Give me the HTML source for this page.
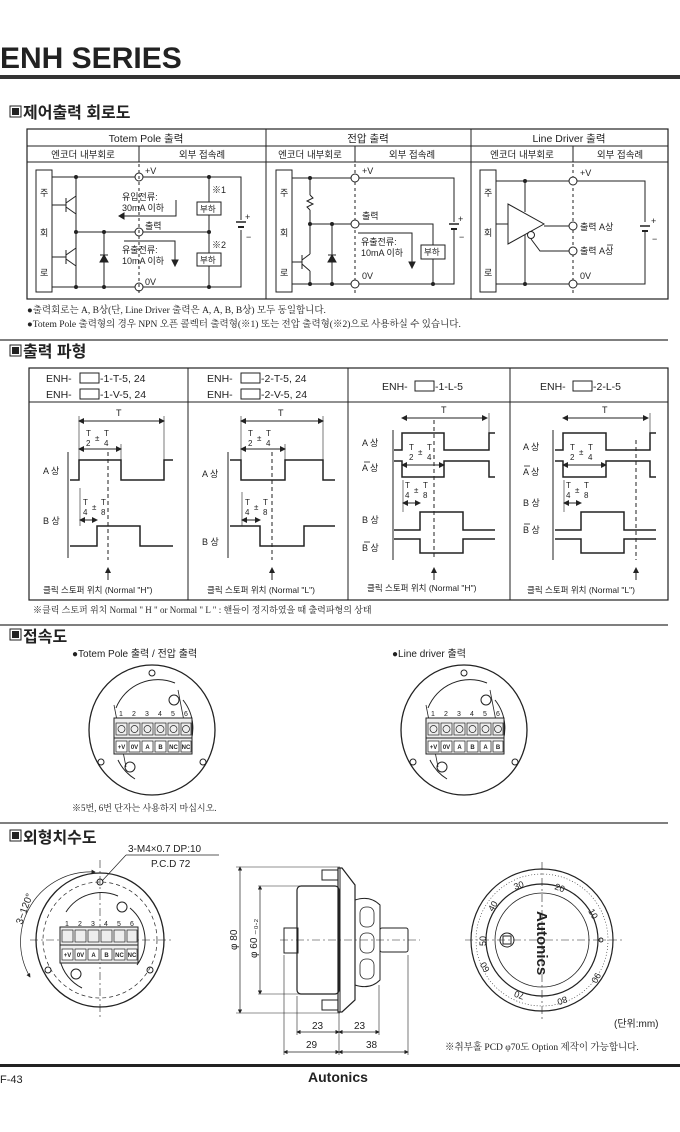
<!DOCTYPE html>
<html><head><meta charset="utf-8"><style>
html,body{margin:0;padding:0;background:#fff}
svg{display:block}
text{font-family:"Liberation Sans","Noto Sans CJK KR",sans-serif;fill:#222}
.s{font-family:"Liberation Serif","Noto Serif CJK SC","Noto Sans CJK KR",serif}
</style></head><body>
<svg width="680" height="1132" viewBox="0 0 680 1132" xmlns="http://www.w3.org/2000/svg" fill="none" stroke="#222" stroke-width="1">
<!-- Header -->
<text x="0" y="68" font-size="30" font-weight="bold" stroke="none" fill="#111">ENH SERIES</text>
<rect x="0" y="75" width="680" height="4" fill="#333" stroke="none"/>

<!-- Section 1 -->
<rect x="10" y="106" width="11" height="11" stroke-width="1"/><rect x="12.5" y="108.5" width="6" height="6" fill="#222"/>
<text x="23" y="118" font-size="16" font-weight="bold" stroke="none">제어출력 회로도</text>
<rect x="27" y="129" width="641" height="170" stroke-width="1.2"/>
<line x1="27" y1="146" x2="668" y2="146"/><line x1="27" y1="162" x2="668" y2="162"/>
<line x1="266" y1="129" x2="266" y2="299"/><line x1="471" y1="129" x2="471" y2="299"/>
<line x1="139" y1="146" x2="139" y2="162"/><line x1="355" y1="146" x2="355" y2="162"/><line x1="573" y1="146" x2="573" y2="162"/>
<g stroke="none" font-size="10.5" text-anchor="middle">
<text x="146" y="142">Totem Pole 출력</text><text x="368" y="142">전압 출력</text><text x="569" y="142">Line Driver 출력</text>
<text x="83" y="158" font-size="9.5">엔코더 내부회로</text><text x="202" y="158" font-size="9.5">외부 접속례</text>
<text x="310" y="158" font-size="9.5">엔코더 내부회로</text><text x="412" y="158" font-size="9.5">외부 접속례</text>
<text x="522" y="158" font-size="9.5">엔코더 내부회로</text><text x="620" y="158" font-size="9.5">외부 접속례</text>
</g>
<!-- Totem circuit -->
<rect x="36" y="170" width="16" height="122"/>
<g stroke="none" font-size="9"><text x="40" y="196">주</text><text x="40" y="236">회</text><text x="40" y="276">로</text></g>
<polyline points="52,177 135,177"/><polyline points="143,177 241,177 241,220"/><polyline points="241,230 241,287 143,287"/><line x1="52" y1="287" x2="135" y2="287"/>
<circle cx="139" cy="177" r="4" fill="#fff"/><circle cx="139" cy="232" r="4" fill="#fff"/><circle cx="139" cy="287" r="4" fill="#fff"/>
<line x1="139" y1="164" x2="139" y2="296" stroke-dasharray="3,3"/>
<line x1="76" y1="232" x2="135" y2="232"/><line x1="143" y1="232" x2="209" y2="232"/>
<line x1="76" y1="177" x2="76" y2="287"/><line x1="209" y1="177" x2="209" y2="287"/>
<rect x="197" y="202" width="24" height="13" fill="#fff"/><rect x="197" y="253" width="24" height="13" fill="#fff"/>
<line x1="52" y1="205" x2="66" y2="205"/><line x1="66" y1="198" x2="66" y2="212"/><line x1="66" y1="203" x2="76" y2="196"/><line x1="66" y1="207" x2="76" y2="214"/>
<line x1="52" y1="257" x2="66" y2="257"/><line x1="66" y1="250" x2="66" y2="264"/><line x1="66" y1="255" x2="76" y2="248"/><line x1="66" y1="259" x2="76" y2="266"/>
<line x1="104" y1="232" x2="104" y2="287"/><polygon points="100,262 108,262 104,255" fill="#222"/><line x1="100" y1="255" x2="108" y2="255"/>
<line x1="236" y1="222" x2="246" y2="222" stroke-width="1.5"/><line x1="238" y1="227" x2="244" y2="227" stroke-width="2"/>
<path d="M176,200 V216 H124"/><polygon points="124,213 124,219 119,216" fill="#222"/>
<path d="M124,241 H175 V260"/><polygon points="172,260 178,260 175,266" fill="#222"/>
<g fill="#222" stroke="none"><circle cx="76" cy="177" r="2"/><circle cx="209" cy="177" r="2"/><circle cx="76" cy="232" r="2"/><circle cx="104" cy="232" r="2"/><circle cx="209" cy="232" r="2"/><circle cx="76" cy="287" r="2"/><circle cx="104" cy="287" r="2"/><circle cx="209" cy="287" r="2"/></g>
<g stroke="none" font-size="9"><text x="145" y="174">+V</text><text x="122" y="200">유입전류:</text><text x="122" y="211">30mA 이하</text><text x="145" y="229">출력</text>
<text x="122" y="253">유출전류:</text><text x="122" y="264">10mA 이하</text><text x="145" y="285">0V</text><text x="212" y="193">※1</text><text x="212" y="248">※2</text>
<text x="200" y="212" font-size="8.5">부하</text><text x="200" y="263" font-size="8.5">부하</text><text x="245" y="220">+</text><text x="246" y="240">−</text></g>
<!-- Voltage circuit -->
<rect x="276" y="170" width="16" height="122"/>
<g stroke="none" font-size="9"><text x="280" y="196">주</text><text x="280" y="236">회</text><text x="280" y="276">로</text></g>
<line x1="292" y1="178" x2="351" y2="178"/><polyline points="359,178 454,178 454,222"/><polyline points="454,230 454,284 359,284"/><line x1="292" y1="284" x2="351" y2="284"/>
<line x1="355" y1="164" x2="355" y2="296" stroke-dasharray="3,3"/>
<circle cx="355" cy="178" r="4" fill="#fff"/><circle cx="355" cy="224" r="4" fill="#fff"/><circle cx="355" cy="284" r="4" fill="#fff"/>
<line x1="310" y1="178" x2="310" y2="195"/><polyline points="310,195 313,198 307,201 313,204 307,207 310,210"/><line x1="310" y1="210" x2="310" y2="254"/>
<line x1="310" y1="224" x2="351" y2="224"/><polyline points="359,224 433,224 433,284"/>
<rect x="421" y="245" width="24" height="14" fill="#fff"/>
<line x1="292" y1="262" x2="302" y2="262"/><line x1="302" y1="255" x2="302" y2="269"/><line x1="302" y1="260" x2="310" y2="254"/><line x1="302" y1="264" x2="310" y2="271"/><line x1="310" y1="271" x2="310" y2="284"/>
<line x1="332" y1="224" x2="332" y2="284"/><polygon points="328,262 336,262 332,255" fill="#222"/><line x1="328" y1="255" x2="336" y2="255"/>
<line x1="449" y1="224" x2="459" y2="224" stroke-width="1.5"/><line x1="451" y1="229" x2="457" y2="229" stroke-width="2"/>
<path d="M358,233 H412 V262"/><polygon points="409,262 415,262 412,268" fill="#222"/>
<g fill="#222" stroke="none"><circle cx="310" cy="178" r="2"/><circle cx="310" cy="224" r="2"/><circle cx="332" cy="224" r="2"/><circle cx="332" cy="284" r="2"/><circle cx="310" cy="284" r="2"/><circle cx="433" cy="284" r="2"/></g>
<g stroke="none" font-size="9"><text x="362" y="174">+V</text><text x="362" y="219">출력</text><text x="361" y="245">유출전류:</text><text x="361" y="256">10mA 이하</text><text x="362" y="279">0V</text><text x="424" y="255" font-size="8.5">부하</text><text x="458" y="222">+</text><text x="459" y="240">−</text></g>
<!-- Line driver -->
<rect x="480" y="170" width="16" height="122"/>
<g stroke="none" font-size="9"><text x="484" y="196">주</text><text x="484" y="236">회</text><text x="484" y="276">로</text></g>
<line x1="496" y1="181" x2="569" y2="181"/><polyline points="577,181 645,181 645,222"/><polyline points="645,230 645,284 577,284"/><line x1="496" y1="284" x2="569" y2="284"/>
<line x1="573" y1="164" x2="573" y2="296" stroke-dasharray="3,3"/>
<circle cx="573" cy="181" r="4" fill="#fff"/><circle cx="573" cy="226" r="4" fill="#fff"/><circle cx="573" cy="251" r="4" fill="#fff"/><circle cx="573" cy="284" r="4" fill="#fff"/>
<polygon points="508,204 508,244 544,224" fill="#fff"/><circle cx="531" cy="235" r="3.5" fill="#fff"/>
<line x1="496" y1="224" x2="508" y2="224"/><line x1="544" y1="226" x2="569" y2="226"/><polyline points="531,239 540,251 569,251"/>
<line x1="525" y1="181" x2="525" y2="212"/><line x1="525" y1="235" x2="525" y2="284"/>
<line x1="640" y1="226" x2="650" y2="226" stroke-width="1.5"/><line x1="642" y1="231" x2="648" y2="231" stroke-width="2"/>
<g fill="#222" stroke="none"><circle cx="525" cy="181" r="2"/><circle cx="525" cy="284" r="2"/></g>
<g stroke="none" font-size="9"><text x="580" y="176">+V</text><text x="580" y="230">출력 A상</text><text x="580" y="254">출력 A상</text><text x="580" y="279">0V</text><text x="651" y="224">+</text><text x="652" y="242">−</text></g>
<line x1="607" y1="245" x2="613" y2="245" stroke-width="0.8"/>
<g stroke="none" font-size="9.5" class="s"><text x="27" y="313" class="s">●출력회로는 A, B상(단, Line Driver 출력은 A, A, B, B상) 모두 동일합니다.</text><text x="27" y="327" class="s">●Totem Pole 출력형의 경우 NPN 오픈 콜렉터 출력형(※1) 또는 전압 출력형(※2)으로 사용하실 수 있습니다.</text></g>
<line x1="0" y1="340" x2="668" y2="340" stroke="#555" stroke-width="1.5"/>

<!-- Section 2 -->
<rect x="10" y="345" width="11" height="11"/><rect x="12.5" y="347.5" width="6" height="6" fill="#222"/>
<text x="23" y="357" font-size="16" font-weight="bold" stroke="none">출력 파형</text>
<rect x="29" y="368" width="639" height="232" stroke-width="1.2"/>
<line x1="29" y1="402" x2="668" y2="402"/>
<line x1="188" y1="368" x2="188" y2="600"/><line x1="348" y1="368" x2="348" y2="600"/><line x1="510" y1="368" x2="510" y2="600"/>
<g stroke="none" font-size="10.5">
<text x="46" y="382">ENH-</text><text x="100" y="382">-1-T-5, 24</text><text x="46" y="398">ENH-</text><text x="100" y="398">-1-V-5, 24</text>
<text x="207" y="382">ENH-</text><text x="261" y="382">-2-T-5, 24</text><text x="207" y="398">ENH-</text><text x="261" y="398">-2-V-5, 24</text>
<text x="382" y="390">ENH-</text><text x="435" y="390">-1-L-5</text>
<text x="540" y="390">ENH-</text><text x="593" y="390">-2-L-5</text></g>
<rect x="80" y="373" width="19" height="10"/><rect x="80" y="389" width="19" height="10"/><rect x="241" y="373" width="19" height="10"/><rect x="241" y="389" width="19" height="10"/><rect x="415" y="381" width="19" height="10"/><rect x="573" y="381" width="19" height="10"/>

<defs><marker id="a" markerWidth="6" markerHeight="6" refX="5" refY="3" orient="auto"><path d="M0,0 L6,3 L0,6z" fill="#222" stroke="none"/></marker>
<marker id="b" markerWidth="6" markerHeight="6" refX="1" refY="3" orient="auto"><path d="M6,0 L0,3 L6,6z" fill="#222" stroke="none"/></marker></defs>
<!-- col1 -->
<g stroke-width="1">
<line x1="79" y1="421" x2="164" y2="421" marker-start="url(#b)" marker-end="url(#a)"/><line x1="79" y1="416" x2="79" y2="460" stroke-width="0.6"/><line x1="164" y1="416" x2="164" y2="460" stroke-width="0.6"/>
<line x1="79" y1="449" x2="121" y2="449" marker-start="url(#b)" marker-end="url(#a)"/><line x1="121" y1="444" x2="121" y2="460" stroke-width="0.6"/>
<line x1="68" y1="452" x2="68" y2="558"/>
<polyline points="70,480 79,480 79,460 121,460 121,480 164,480 164,460 173,460" stroke-width="1.5"/>
<line x1="80" y1="488" x2="80" y2="526" stroke-width="0.6"/>
<line x1="80" y1="520" x2="97" y2="520" marker-start="url(#b)" marker-end="url(#a)"/>
<polyline points="70,546 97,546 97,526 140,526 140,546 173,546" stroke-width="1.5"/>
<line x1="108" y1="452" x2="108" y2="560" stroke-dasharray="4,3"/><line x1="108" y1="580" x2="108" y2="568" marker-end="url(#a)"/>
</g>
<!-- col2 -->
<g>
<line x1="241" y1="421" x2="323" y2="421" marker-start="url(#b)" marker-end="url(#a)"/><line x1="241" y1="416" x2="241" y2="460" stroke-width="0.6"/><line x1="323" y1="416" x2="323" y2="460" stroke-width="0.6"/>
<line x1="241" y1="449" x2="285" y2="449" marker-start="url(#b)" marker-end="url(#a)"/><line x1="285" y1="444" x2="285" y2="460" stroke-width="0.6"/>
<line x1="228" y1="452" x2="228" y2="558"/>
<polyline points="230,460 241,460 241,480 285,480 285,460 323,460 323,480 335,480" stroke-width="1.5"/>
<line x1="242" y1="492" x2="242" y2="526" stroke-width="0.6"/>
<line x1="242" y1="520" x2="260" y2="520" marker-start="url(#b)" marker-end="url(#a)"/>
<polyline points="230,526 260,526 260,546 304,546 304,526 335,526" stroke-width="1.5"/>
<line x1="272" y1="452" x2="272" y2="560" stroke-dasharray="4,3"/><line x1="272" y1="580" x2="272" y2="568" marker-end="url(#a)"/>
</g>
<!-- col3 -->
<g>
<line x1="402" y1="418" x2="487" y2="418" marker-start="url(#b)" marker-end="url(#a)"/><line x1="489" y1="413" x2="489" y2="433" stroke-width="0.6"/>
<line x1="393" y1="430" x2="393" y2="560"/>
<polyline points="394,450 402,450 402,433 444,433 444,450 489,450 489,433 495,433" stroke-width="1.5"/>
<polyline points="394,461 402,461 402,477 444,477 444,461 489,461 489,477 495,477" stroke-width="1.5"/>
<line x1="402" y1="465" x2="444" y2="465" marker-start="url(#b)" marker-end="url(#a)"/>
<line x1="403" y1="480" x2="403" y2="512" stroke-width="0.6"/>
<line x1="403" y1="503" x2="420" y2="503" marker-start="url(#b)" marker-end="url(#a)"/>
<polyline points="394,530 420,530 420,512 463,512 463,530 495,530" stroke-width="1.5"/>
<polyline points="394,539 420,539 420,553 463,553 463,539 495,539" stroke-width="1.5"/>
<line x1="434" y1="420" x2="434" y2="560" stroke-dasharray="4,3"/><line x1="434" y1="580" x2="434" y2="568" marker-end="url(#a)"/>
</g>
<!-- col4 -->
<g>
<line x1="563" y1="418" x2="648" y2="418" marker-start="url(#b)" marker-end="url(#a)"/><line x1="650" y1="413" x2="650" y2="433" stroke-width="0.6"/>
<line x1="553" y1="430" x2="553" y2="560"/>
<polyline points="555,450 563,450 563,433 606,433 606,450 650,450 650,433 656,433" stroke-width="1.5"/>
<polyline points="555,461 563,461 563,477 606,477 606,461 650,461 650,477 656,477" stroke-width="1.5"/>
<line x1="563" y1="465" x2="606" y2="465" marker-start="url(#b)" marker-end="url(#a)"/>
<line x1="564" y1="480" x2="564" y2="512" stroke-width="0.6"/>
<line x1="564" y1="503" x2="581" y2="503" marker-start="url(#b)" marker-end="url(#a)"/>
<polyline points="555,530 581,530 581,512 624,512 624,530 656,530" stroke-width="1.5"/>
<polyline points="555,539 581,539 581,553 624,553 624,539 656,539" stroke-width="1.5"/>
<line x1="636" y1="440" x2="636" y2="560" stroke-dasharray="4,3"/><line x1="636" y1="580" x2="636" y2="568" marker-end="url(#a)"/>
</g>
<g stroke="none" font-size="9">
<text x="116" y="416">T</text><text x="278" y="416">T</text><text x="441" y="413">T</text><text x="602" y="413">T</text>
<text x="43" y="474">A 상</text><text x="43" y="524">B 상</text><text x="202" y="477">A 상</text><text x="202" y="545">B 상</text>
<text x="362" y="446">A 상</text><text x="362" y="471">A 상</text><text x="362" y="523">B 상</text><text x="362" y="551">B 상</text>
<text x="523" y="450">A 상</text><text x="523" y="475">A 상</text><text x="523" y="506">B 상</text><text x="523" y="533">B 상</text>
<g font-size="8"><text x="86" y="436">T</text><text x="86" y="446">2</text><text x="95" y="441">±</text><text x="104" y="436">T</text><text x="104" y="446">4</text>
<text x="248" y="436">T</text><text x="248" y="446">2</text><text x="257" y="441">±</text><text x="266" y="436">T</text><text x="266" y="446">4</text>
<text x="409" y="450">T</text><text x="409" y="460">2</text><text x="418" y="455">±</text><text x="427" y="450">T</text><text x="427" y="460">4</text>
<text x="570" y="450">T</text><text x="570" y="460">2</text><text x="579" y="455">±</text><text x="588" y="450">T</text><text x="588" y="460">4</text>
<text x="83" y="505">T</text><text x="83" y="515">4</text><text x="92" y="510">±</text><text x="101" y="505">T</text><text x="101" y="515">8</text>
<text x="245" y="505">T</text><text x="245" y="515">4</text><text x="254" y="510">±</text><text x="263" y="505">T</text><text x="263" y="515">8</text>
<text x="405" y="488">T</text><text x="405" y="498">4</text><text x="414" y="493">±</text><text x="423" y="488">T</text><text x="423" y="498">8</text>
<text x="566" y="488">T</text><text x="566" y="498">4</text><text x="575" y="493">±</text><text x="584" y="488">T</text><text x="584" y="498">8</text></g>
<g font-size="8.5"><text x="43" y="593">클릭 스토퍼 위치 (Normal "H")</text><text x="207" y="593">클릭 스토퍼 위치 (Normal "L")</text><text x="367" y="591">클릭 스토퍼 위치 (Normal "H")</text><text x="527" y="593">클릭 스토퍼 위치 (Normal "L")</text></g>
<text x="33" y="613" class="s" font-size="9">※클릭 스토퍼 위치 Normal " H " or  Normal " L " : 핸들이 정지하였을 때 출력파형의 상태</text>
</g>
<g stroke-width="0.8"><line x1="364" y1="462" x2="370" y2="462"/><line x1="364" y1="542" x2="370" y2="542"/><line x1="524" y1="466" x2="530" y2="466"/><line x1="524" y1="524" x2="530" y2="524"/></g>
<line x1="0" y1="625" x2="668" y2="625" stroke="#555" stroke-width="1.5"/>

<!-- Section 3 -->
<rect x="10" y="629" width="11" height="11"/><rect x="12.5" y="631.5" width="6" height="6" fill="#222"/>
<text x="23" y="642" font-size="16" font-weight="bold" stroke="none">접속도</text>
<g stroke="none" font-size="10"><text x="72" y="657">●Totem Pole 출력 / 전압 출력</text><text x="392" y="657">●Line driver 출력</text>
<text x="72" y="811" class="s" font-size="9">※5번, 6번 단자는 사용하지 마십시오.</text></g>
<g id="conn">
<ellipse cx="152" cy="730" rx="63" ry="65" stroke-width="1.3"/>
<path d="M116,708 A45,45 0 0 1 175,683 M183,700 A45,45 0 0 1 186,752 M135,779 A45,45 0 0 1 118,760" stroke-width="1"/>
<path d="M114,705 L126,767 M178,690 L190,752" stroke-width="0.8"/>
<circle cx="152" cy="673" r="3"/><circle cx="101" cy="762" r="3"/><circle cx="203" cy="762" r="3"/>
<circle cx="174" cy="700" r="5"/><circle cx="130" cy="767" r="5"/>
<rect x="114" y="718" width="78" height="36" fill="#eee"/>
<line x1="114" y1="738" x2="192" y2="738"/>
<g stroke-width="0.7"><rect x="116" y="723" width="11" height="12"/><rect x="129" y="723" width="11" height="12"/><rect x="142" y="723" width="11" height="12"/><rect x="155" y="723" width="11" height="12"/><rect x="168" y="723" width="11" height="12"/><rect x="181" y="723" width="10" height="12"/>
<circle cx="121.5" cy="729" r="3.5"/><circle cx="134.5" cy="729" r="3.5"/><circle cx="147.5" cy="729" r="3.5"/><circle cx="160.5" cy="729" r="3.5"/><circle cx="173.5" cy="729" r="3.5"/><circle cx="186" cy="729" r="3.5"/>
<rect x="116" y="741" width="11" height="11" fill="#fff"/><rect x="129" y="741" width="11" height="11" fill="#fff"/><rect x="142" y="741" width="11" height="11" fill="#fff"/><rect x="155" y="741" width="11" height="11" fill="#fff"/><rect x="168" y="741" width="11" height="11" fill="#fff"/><rect x="181" y="741" width="10" height="11" fill="#fff"/></g>
<g stroke="none" font-size="7" text-anchor="middle"><text x="121" y="716">1</text><text x="134" y="716">2</text><text x="147" y="716">3</text><text x="160" y="716">4</text><text x="173" y="716">5</text><text x="186" y="716">6</text></g>
</g>
<g stroke="none" font-size="6" font-weight="bold" text-anchor="middle"><text x="121.5" y="749">+V</text><text x="134.5" y="749">0V</text><text x="147.5" y="749">A</text><text x="160.5" y="749">B</text><text x="173.5" y="749">NC</text><text x="186" y="749">NC</text></g>
<use href="#conn" transform="translate(312,0)"/>
<g stroke="none" font-size="6" font-weight="bold" text-anchor="middle"><text x="433.5" y="749">+V</text><text x="446.5" y="749">0V</text><text x="459.5" y="749">A</text><text x="472.5" y="749">B</text><text x="485.5" y="749">A</text><text x="498" y="749">B</text></g>
<line x1="0" y1="823" x2="668" y2="823" stroke="#555" stroke-width="1.5"/>

<!-- Section 4 -->
<rect x="10" y="830" width="11" height="11"/><rect x="12.5" y="832.5" width="6" height="6" fill="#222"/>
<text x="23" y="843" font-size="16" font-weight="bold" stroke="none">외형치수도</text>
<g stroke="none" font-size="10"><text x="128" y="852">3-M4×0.7 DP:10</text><text x="151" y="867">P.C.D 72</text></g>
<line x1="126" y1="855" x2="219" y2="855" stroke-width="0.7"/><line x1="126" y1="855" x2="102" y2="881" stroke-width="0.7"/>
<!-- front view -->
<ellipse cx="100" cy="940" rx="64" ry="67" stroke-width="1.3"/>
<ellipse cx="100" cy="940" rx="57" ry="58" stroke-dasharray="4,3" stroke-width="0.7"/>
<path d="M66,912 A42,42 0 0 1 118,896 M130,908 A42,42 0 0 1 137,965 M82,988 A42,42 0 0 1 60,960" stroke-width="1"/>
<line x1="30" y1="940" x2="172" y2="940" stroke-dasharray="8,3,2,3" stroke-width="0.6"/><line x1="100" y1="860" x2="100" y2="1020" stroke-dasharray="8,3,2,3" stroke-width="0.6"/>
<circle cx="100" cy="882" r="3"/><circle cx="48" cy="970" r="3"/><circle cx="150" cy="970" r="3"/><circle cx="122" cy="907" r="5"/><circle cx="76" cy="974" r="5"/>
<path d="M95,872 A70,70 0 0 0 30,977" stroke-width="0.7" marker-start="url(#b)" marker-end="url(#a)"/>
<text x="22" y="925" font-size="10" stroke="none" transform="rotate(-70 22 925)">3−120°</text>
<rect x="60" y="927" width="78" height="36" fill="#eee"/><line x1="60" y1="945" x2="138" y2="945"/>
<g stroke-width="0.7"><rect x="62" y="930" width="11" height="12"/><rect x="75" y="930" width="11" height="12"/><rect x="88" y="930" width="11" height="12"/><rect x="101" y="930" width="11" height="12"/><rect x="114" y="930" width="11" height="12"/><rect x="127" y="930" width="10" height="12"/>
<rect x="62" y="949" width="11" height="11" fill="#fff"/><rect x="75" y="949" width="11" height="11" fill="#fff"/><rect x="88" y="949" width="11" height="11" fill="#fff"/><rect x="101" y="949" width="11" height="11" fill="#fff"/><rect x="114" y="949" width="11" height="11" fill="#fff"/><rect x="127" y="949" width="10" height="11" fill="#fff"/></g>
<g stroke="none" font-size="7" text-anchor="middle"><text x="67" y="926">1</text><text x="80" y="926">2</text><text x="93" y="926">3</text><text x="106" y="926">4</text><text x="119" y="926">5</text><text x="132" y="926">6</text>
<g font-size="6" font-weight="bold"><text x="67.5" y="957">+V</text><text x="80.5" y="957">0V</text><text x="93.5" y="957">A</text><text x="106.5" y="957">B</text><text x="119.5" y="957">NC</text><text x="132" y="957">NC</text></g></g>
<!-- side view -->
<rect x="297" y="886" width="42" height="108" rx="4" stroke-width="1.2"/>
<rect x="284" y="928" width="14" height="25"/>
<rect x="322" y="870" width="16" height="10"/><rect x="322" y="1000" width="16" height="10"/>
<path d="M338,868 L342,868 L355,885 V1000 L342,1012 H338 Z" stroke-width="1.2"/>
<line x1="340" y1="868" x2="340" y2="1012"/>
<path d="M355,900 Q370,895 380,905 V980 Q370,990 355,985" stroke-width="1"/>
<g stroke-width="0.8"><rect x="360" y="907" width="14" height="20" rx="6"/><rect x="360" y="933" width="14" height="20" rx="6"/><rect x="360" y="959" width="14" height="20" rx="6"/></g>
<rect x="380" y="928" width="28" height="24" rx="2"/>
<line x1="280" y1="940" x2="420" y2="940" stroke-dasharray="8,3,2,3" stroke-width="0.6"/>
<g stroke-width="0.6"><line x1="236" y1="867" x2="340" y2="867"/><line x1="236" y1="1013" x2="340" y2="1013"/><line x1="258" y1="886" x2="300" y2="886"/><line x1="258" y1="994" x2="300" y2="994"/>
<line x1="284" y1="955" x2="284" y2="1055"/><line x1="297" y1="996" x2="297" y2="1035"/><line x1="339" y1="1012" x2="339" y2="1055"/><line x1="379" y1="985" x2="379" y2="1035"/><line x1="408" y1="955" x2="408" y2="1055"/></g>
<line x1="240" y1="867" x2="240" y2="1013" marker-start="url(#b)" marker-end="url(#a)" stroke-width="0.7"/>
<line x1="260" y1="886" x2="260" y2="994" marker-start="url(#b)" marker-end="url(#a)" stroke-width="0.7"/>
<line x1="297" y1="1032" x2="339" y2="1032" marker-start="url(#b)" marker-end="url(#a)" stroke-width="0.7"/>
<line x1="339" y1="1032" x2="379" y2="1032" marker-start="url(#b)" marker-end="url(#a)" stroke-width="0.7"/>
<line x1="284" y1="1052" x2="339" y2="1052" marker-start="url(#b)" marker-end="url(#a)" stroke-width="0.7"/>
<line x1="339" y1="1052" x2="408" y2="1052" marker-start="url(#b)" marker-end="url(#a)" stroke-width="0.7"/>
<g stroke="none" font-size="10"><text x="312" y="1029">23</text><text x="354" y="1029">23</text><text x="306" y="1048">29</text><text x="366" y="1048">38</text>
<text x="237" y="950" transform="rotate(-90 237 950)">φ 80</text><text x="257" y="958" transform="rotate(-90 257 958)">φ 60 ₋₀.₂</text></g>
<!-- dial -->
<circle cx="542" cy="940" r="71" stroke-width="1.2"/><circle cx="542" cy="940" r="66" stroke-width="0.6" stroke-dasharray="1,2"/><circle cx="542" cy="940" r="56" stroke-width="1.2"/><circle cx="542" cy="940" r="47" stroke-width="0.8"/>
<line x1="465" y1="940" x2="622" y2="940" stroke-dasharray="8,3,2,3" stroke-width="0.6"/><line x1="542" y1="862" x2="542" y2="1020" stroke-dasharray="8,3,2,3" stroke-width="0.6"/>
<circle cx="507" cy="940" r="7"/><rect x="503" y="936" width="8" height="8"/><circle cx="601" cy="940" r="2"/>
<g stroke="none" font-size="9" fill="#444">
<text x="515" y="890" transform="rotate(-20 515 890)">30</text><text x="554" y="889" transform="rotate(20 554 889)">20</text><text x="588" y="911" transform="rotate(60 588 911)">10</text>
<text x="493" y="912" transform="rotate(-60 493 912)">40</text><text x="486" y="946" transform="rotate(-90 486 946)">50</text>
<text x="490" y="970" transform="rotate(-120 490 970)">60</text><text x="525" y="994" transform="rotate(-160 525 994)">70</text><text x="566" y="996" transform="rotate(160 566 996)">80</text><text x="596" y="972" transform="rotate(120 596 972)">90</text></g>
<text x="537" y="911" font-size="15" font-weight="bold" stroke="none" fill="#111" transform="rotate(90 537 911)">Autonics</text>
<g stroke="none"><text x="614" y="1027" font-size="10">(단위:mm)</text><text x="445" y="1050" font-size="9.5" class="s">※취부홀 PCD φ70도 Option 제작이 가능합니다.</text></g>
<!-- footer -->
<rect x="0" y="1064" width="680" height="3" fill="#222" stroke="none"/>
<text x="0" y="1083" font-size="11" stroke="none">F-43</text>
<text x="308" y="1082" font-size="14" font-weight="bold" stroke="none" fill="#111">Autonics</text>
</svg>
</body></html>
